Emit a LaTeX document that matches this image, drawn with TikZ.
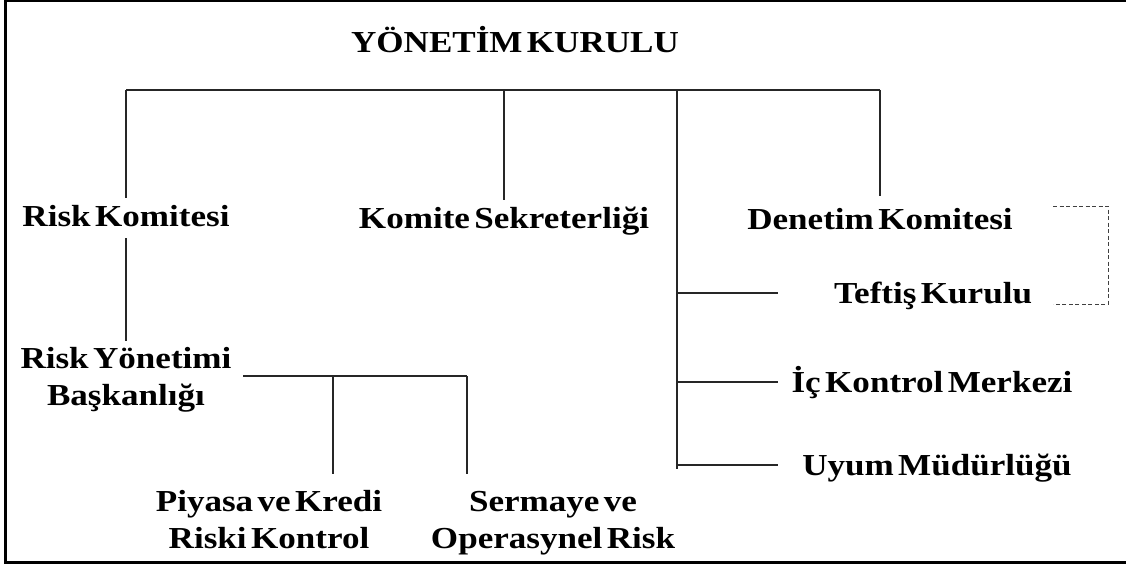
\documentclass[tikz,border=0pt]{standalone}
\usepackage{fontspec}
\setmainfont{Liberation Serif}[FakeStretch=1.15, WordSpace=0.5]
\begin{document}
\begin{tikzpicture}[x=1pt, y=-1pt,
  lbl/.style={font=\bfseries\fontsize{30.5}{37}\selectfont, inner sep=0pt,
              text height=20pt, text depth=0pt},
  lbltwo/.style={font=\bfseries\fontsize{30.5}{37}\selectfont, inner sep=0pt,
                 align=center, anchor=base},
  conn/.style={draw=black!85, line width=1.3pt},
  dotlink/.style={draw=black!75, line width=1pt, dash pattern=on 4pt off 2.5pt},
  edge/.style={draw=black, line cap=rect}]
\useasboundingbox (0,0) rectangle (1126,564);

% outer frame (open on the right)
\draw[edge, line width=1.8pt] (1126,0.9) -- (5.3,0.9);
\draw[edge, line width=2.7pt] (5.3,0.9) -- (5.3,562.5);
\draw[edge, line width=3pt] (5.3,562.5) -- (1126,562.5);

% title
\node[lbl, text height=, anchor=base] (yk) at (515,53) {YÖNETİM KURULU};

% first level
\node[lbl] (rk) at (126,216) {Risk Komitesi};
\node[lbl] (ks) at (504,218) {Komite Sekreterliği};
\node[lbl] (dk) at (880,219) {Denetim Komitesi};

% units hanging from the right spine
\node[lbl] (tk) at (933,293) {Teftiş Kurulu};
\node[lbl] (ic) at (932,382) {İç Kontrol Merkezi};
\node[lbl] (um) at (937,465) {Uyum Müdürlüğü};

% risk management branch (anchored on the last baseline)
\node[lbltwo] (ryb) at (126,405) {Risk Yönetimi\\Başkanlığı};
\node[lbltwo] (pk) at (269,548) {Piyasa ve Kredi\\Riski Kontrol};
\node[lbltwo] (so) at (553,548) {Sermaye ve\\Operasynel Risk};

% board bus
\coordinate (bus) at (0,90);
\draw[conn, line width=1.7pt] (rk |- bus) -- (dk |- bus);
\draw[conn, shorten >=8pt]  (rk |- bus) -- (rk.north);
\draw[conn, shorten >=8pt]  (ks |- bus) -- (ks.north);
\draw[conn, shorten >=13pt] (dk |- bus) -- (dk.north);

% right spine with its branches
\coordinate (sptop) at (677,90);
\coordinate (spbot) at (677,469);
\coordinate (tipx)  at (778,0);
\draw[conn] (sptop) -- (spbot);
\draw[conn] (sptop |- tk) -- (tipx |- tk);
\draw[conn] (sptop |- ic) -- (tipx |- ic);
\draw[conn] (sptop |- um) -- (tipx |- um);

% dotted link between audit committee and inspection board
\coordinate (dlA) at (1053,206);
\coordinate (dlB) at (1108,206);
\coordinate (dlC) at (1108,304);
\coordinate (dlD) at (1053,304);
\draw[dotlink] (dlA) -- (dlB) -- (dlC) -- (dlD);

% risk committee down to risk management
\draw[conn, shorten <=12pt, shorten >=6pt] (rk.south) -- (ryb.north);

% risk management sub-bus
\coordinate (rbL) at (243,376);
\coordinate (rbM) at (333,376);
\coordinate (rbR) at (467,376);
\coordinate (pkT) at (333,474);
\coordinate (soT) at (467,474);
\draw[conn] (rbL) -- (rbR);
\draw[conn] (rbM) -- (pkT);
\draw[conn] (rbR) -- (soT);
\end{tikzpicture}
\end{document}
